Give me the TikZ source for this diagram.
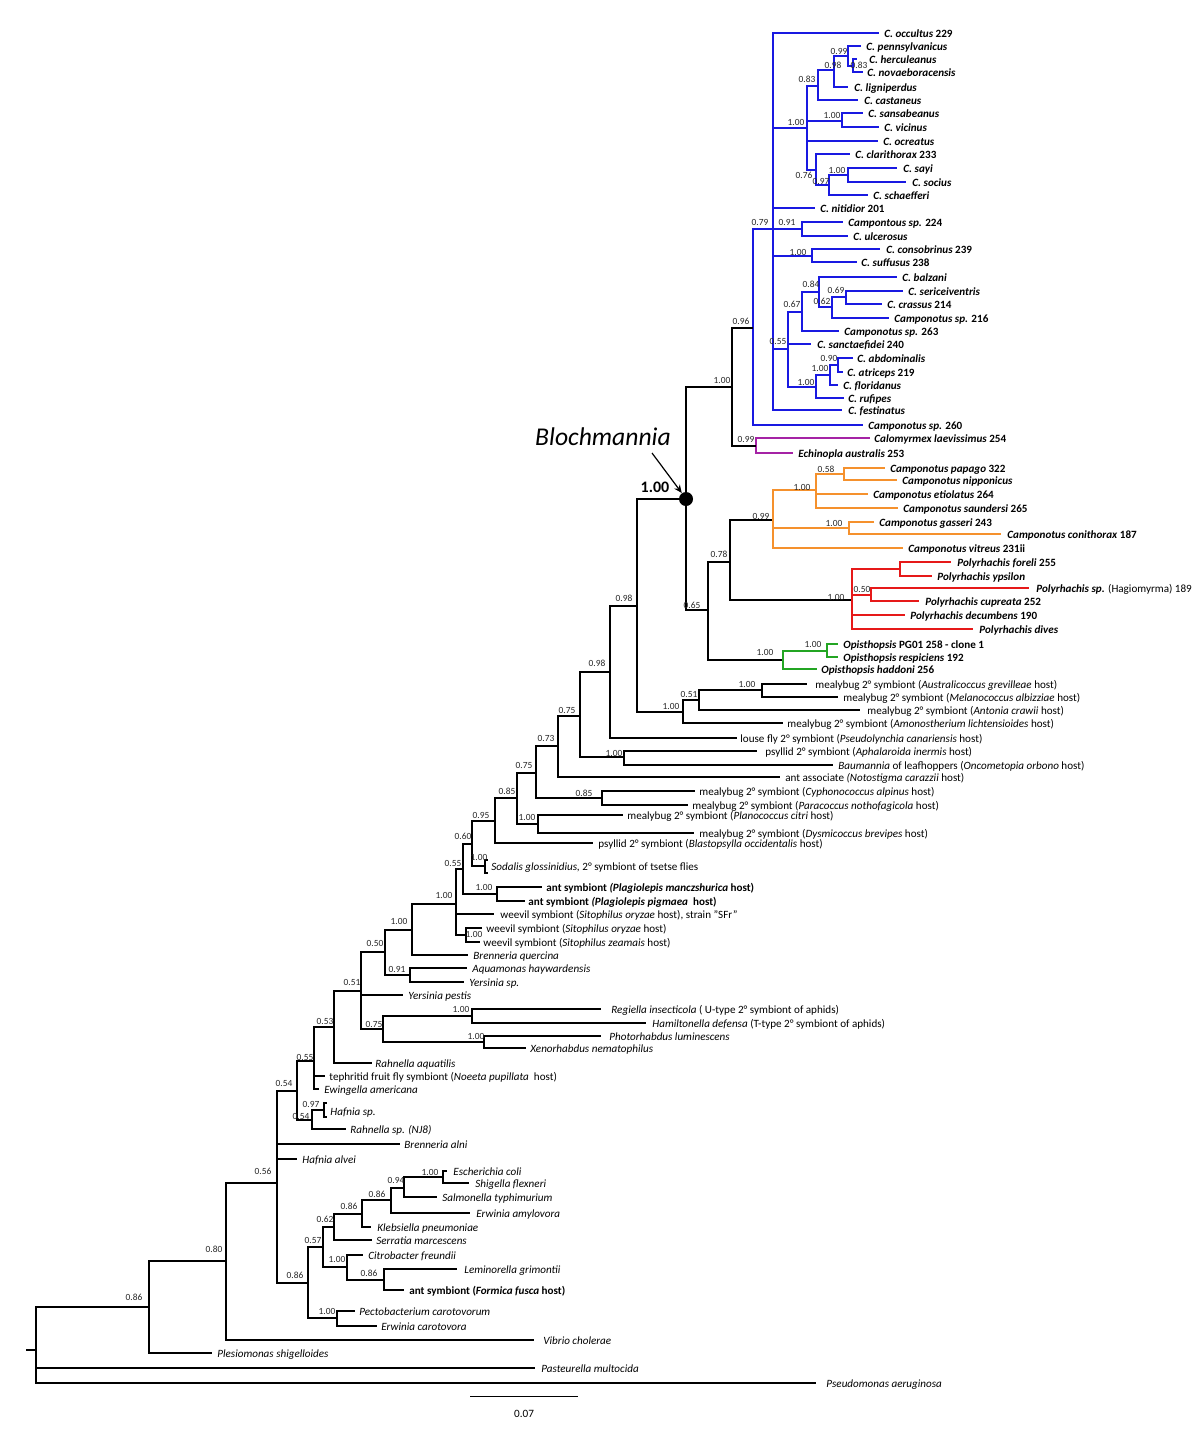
\documentclass[tikz,border=0pt]{standalone}
\usepackage{fontspec}
\setmainfont{Carlito}
\usetikzlibrary{arrows.meta}
\definecolor{cblue}{RGB}{25,25,225}
\definecolor{cpurp}{RGB}{165,35,165}
\definecolor{corng}{RGB}{245,145,45}
\definecolor{cred}{RGB}{230,25,25}
\definecolor{cgrn}{RGB}{35,165,35}
\newcommand\tleaf[5]{\coordinate (#1) at (#2,#3);\node[lab] (#1t) at (#4,#3) {#5};}
\newcommand\tedge[3]{\draw[br,#1] (#2) |- (#3);}
\newcommand\tsup[4]{\node[sup] (#1) at (#2,#3) {#4};}
\newcommand\bi[1]{\textbf{\textit{#1}}}
\tikzset{
  br/.style={line width=0.78pt,line join=miter},
  blk/.style={black},
  blu/.style={cblue},
  pur/.style={cpurp},
  org/.style={corng},
  rd/.style={cred},
  grn/.style={cgrn},
  lab/.style={anchor=mid west,inner sep=0pt,font=\fontsize{5.55}{6.2}\selectfont},
  sup/.style={inner sep=0pt,font=\fontsize{4.7}{5.2}\selectfont,text=black!85},
}
\begin{document}
\begin{tikzpicture}[x=0.5pt,y=-0.5pt]
\useasboundingbox (0,0) rectangle (1200,1440);
% ---------------- Blue clade ----------------
\coordinate (Bl) at (686,499);
\coordinate (A100) at (732,387);
\coordinate (B096) at (753,328);
\coordinate (B079) at (773,229);
\tleaf{occ}{879}{33}{884}{\bi{C. occultus} \textbf{229}}
\coordinate (B100a) at (807,128);
\coordinate (B083) at (818,86);
\coordinate (B098) at (834,70);
\coordinate (B099) at (848,56);
\tleaf{pen}{861}{46}{866}{\bi{C. pennsylvanicus}}
\coordinate (B083b) at (853,66);
\tleaf{her}{857}{59}{869}{\bi{C. herculeanus}}
\tleaf{nov}{863}{72}{867}{\bi{C. novaeboracensis}}
\tleaf{lig}{848}{87}{854}{\bi{C. ligniperdus}}
\tleaf{cas}{858}{100}{864}{\bi{C. castaneus}}
\coordinate (B100b) at (842,121);
\tleaf{san}{863}{113}{868}{\bi{C. sansabeanus}}
\tleaf{vic}{879}{127}{884}{\bi{C. vicinus}}
\tleaf{ocr}{878}{141}{883}{\bi{C. ocreatus}}
\coordinate (B076) at (816,170);
\tleaf{cla}{850}{154}{855}{\bi{C. clarithorax} \textbf{233}}
\coordinate (B097) at (829,185);
\coordinate (B100c) at (848,175);
\tleaf{say}{897}{168}{903}{\bi{C. sayi}}
\tleaf{soc}{906}{182}{912}{\bi{C. socius}}
\tleaf{sch}{868}{195}{873}{\bi{C. schaefferi}}
\tleaf{nit}{815}{208}{820}{\bi{C. nitidior} \textbf{201}}
\coordinate (B091) at (802,229);
\tleaf{sp224}{843}{222}{848}{\bi{Campontous sp.} \textbf{224}}
\tleaf{ulc}{848}{236}{853}{\bi{C. ulcerosus}}
\coordinate (B100d) at (812,256);
\tleaf{con}{880}{249}{886}{\bi{C. consobrinus} \textbf{239}}
\tleaf{suf}{857}{262}{861}{\bi{C. suffusus} \textbf{238}}
\coordinate (B055) at (788,349);
\coordinate (B067) at (802,312);
\coordinate (B084) at (819,292);
\tleaf{bal}{897}{277}{902}{\bi{C. balzani}}
\coordinate (B062) at (832,307);
\coordinate (B069) at (846,297);
\tleaf{ser}{903}{291}{908}{\bi{C. sericeiventris}}
\tleaf{cra}{882}{304}{887}{\bi{C. crassus} \textbf{214}}
\tleaf{sp216}{889}{318}{894}{\bi{Camponotus sp.} \textbf{216}}
\tleaf{sp263}{839}{331}{844}{\bi{Camponotus sp.} \textbf{263}}
\tleaf{sfi}{811}{344}{817}{\bi{C. sanctaefidei} \textbf{240}}
\coordinate (BA) at (816,387);
\coordinate (BB) at (830,375);
\coordinate (BC) at (838,365);
\tleaf{abd}{853}{358}{857}{\bi{C. abdominalis}}
\tleaf{atr}{843}{372}{847}{\bi{C. atriceps} \textbf{219}}
\tleaf{flo}{838}{385}{843}{\bi{C. floridanus}}
\tleaf{ruf}{844}{398}{848}{\bi{C. rufipes}}
\tleaf{fes}{842}{410}{848}{\bi{C. festinatus}}
\tleaf{sp260}{863}{425}{868}{\bi{Camponotus sp.} \textbf{260}}
\coordinate (P099) at (756,446);
\tleaf{cal}{870}{438}{874}{\bi{Calomyrmex laevissimus} \textbf{254}}
\tleaf{ech}{793}{453}{798}{\bi{Echinopla australis} \textbf{253}}
\foreach \p/\c in {B096/B079,B096/sp260,B079/occ,B079/B100a,B079/nit,B079/B091,B079/B100d,B079/B055,B079/fes,
  B100a/B083,B100a/B100b,B100a/ocr,B100a/B076,B083/B098,B083/cas,B098/B099,B098/lig,B099/pen,B099/B083b,
  B083b/her,B083b/nov,B100b/san,B100b/vic,B076/cla,B076/B097,B097/B100c,B097/sch,B100c/say,B100c/soc,
  B091/sp224,B091/ulc,B100d/con,B100d/suf,B055/B067,B055/sfi,B055/BA,B067/B084,B067/sp263,B084/bal,B084/B062,
  B062/B069,B062/sp216,B069/ser,B069/cra,BA/BB,BA/ruf,BB/BC,BB/flo,BC/abd,BC/atr}
  {\tedge{blu}{\p}{\c}}
\tedge{pur}{P099}{cal}
\tedge{pur}{P099}{ech}
\tedge{blk}{A100}{B096}
\tedge{blk}{A100}{P099}
\tedge{blk}{Bl}{A100}
% ---------------- Orange / red / green ----------------
\coordinate (N065) at (708,610);
\coordinate (N078) at (730,562);
\coordinate (O099) at (773,520);
\coordinate (O100a) at (816,490);
\coordinate (O058) at (844,474);
\tleaf{pap}{885}{468}{890}{\bi{Camponotus papago} \textbf{322}}
\tleaf{nip}{897}{480}{902}{\bi{Camponotus nipponicus}}
\tleaf{eti}{868}{494}{873}{\bi{Camponotus etiolatus} \textbf{264}}
\tleaf{sau}{898}{508}{903}{\bi{Camponotus saundersi} \textbf{265}}
\coordinate (O100b) at (849,528);
\tleaf{gas}{874}{522}{879}{\bi{Camponotus gasseri} \textbf{243}}
\tleaf{coni}{1001}{534}{1007}{\bi{Camponotus conithorax} \textbf{187}}
\tleaf{vit}{903}{548}{908}{\bi{Camponotus vitreus} \textbf{231ii}}
\coordinate (R100) at (852,600);
\coordinate (R1) at (900,569);
\coordinate (R050) at (871,595);
\tleaf{fore}{951}{562}{957}{\bi{Polyrhachis foreli} \textbf{255}}
\tleaf{yps}{932}{576}{937}{\bi{Polyrhachis ypsilon}}
\tleaf{hag}{1029}{588}{1036}{\bi{Polyrhachis sp.} (Hagiomyrma) 189}
\tleaf{cup}{919}{601}{925}{\bi{Polyrhachis cupreata} \textbf{252}}
\tleaf{dec}{905}{615}{910}{\bi{Polyrhachis decumbens} \textbf{190}}
\tleaf{div}{973}{629}{979}{\bi{Polyrhachis dives}}
\coordinate (G100) at (783,660);
\coordinate (G100b) at (827,651);
\tleaf{pg}{838}{644}{843}{\bi{Opisthopsis} \textbf{PG01 258 - clone 1}}
\tleaf{resp}{838}{657}{843}{\bi{Opisthopsis respiciens} \textbf{192}}
\tleaf{hadd}{817}{669}{821}{\bi{Opisthopsis haddoni} \textbf{256}}
\tedge{blk}{Bl}{N065}
\tedge{blk}{N065}{N078}
\tedge{blk}{N065}{G100}
\tedge{blk}{N078}{O099}
\tedge{blk}{N078}{R100}
\foreach \p/\c in {O099/O100a,O099/O100b,O099/vit,O100a/O058,O100a/eti,O100a/sau,O058/pap,O058/nip,O100b/gas,O100b/coni}
  {\tedge{org}{\p}{\c}}
\foreach \p/\c in {R100/R1,R100/R050,R100/dec,R100/div,R1/fore,R1/yps,R050/hag,R050/cup}
  {\tedge{rd}{\p}{\c}}
\foreach \p/\c in {G100/G100b,G100/hadd,G100b/pg,G100b/resp}
  {\tedge{grn}{\p}{\c}}
% ---------------- Lower tree ----------------
\coordinate (U098) at (637,606);
\coordinate (M100) at (683,712);
\coordinate (M051) at (699,700);
\coordinate (M100b) at (762,690);
\tleaf{aus}{807}{684}{815}{mealybug 2° symbiont (\textit{Australicoccus grevilleae} host)}
\tleaf{mel}{838}{697}{843}{mealybug 2° symbiont (\textit{Melanococcus albizziae} host)}
\tleaf{antc}{860}{710}{867}{mealybug 2° symbiont (\textit{Antonia crawii} host)}
\tleaf{amo}{783}{723}{787}{mealybug 2° symbiont (\textit{Amonostherium lichtensioides} host)}
\coordinate (L098) at (610,672);
\tleaf{lou}{737}{738}{740}{louse fly 2° symbiont (\textit{Pseudolynchia canariensis} host)}
\coordinate (T075) at (580,716);
\coordinate (Ps100) at (624,757);
\tleaf{aph}{757}{751}{765}{psyllid 2° symbiont (\textit{Aphalaroida inermis} host)}
\tleaf{bau}{833}{765}{838}{\textit{Baumannia} of leafhoppers (\textit{Oncometopia orbono} host)}
\coordinate (T073) at (558,746);
\tleaf{aas}{780}{777}{785}{ant associate \textit{(Notostigma carazzii} host)}
\coordinate (T075b) at (536,773);
\coordinate (C085) at (602,798);
\tleaf{cyp}{695}{791}{699}{mealybug 2° symbiont (\textit{Cyphonococcus alpinus} host)}
\tleaf{par}{688}{805}{692}{mealybug 2° symbiont (\textit{Paracoccus nothofagicola} host)}
\coordinate (T085) at (517,798);
\coordinate (P100) at (538,824);
\tleaf{pla}{623}{815}{627}{mealybug 2° symbiont (\textit{Planococcus citri} host)}
\tleaf{dys}{694}{833}{699}{mealybug 2° symbiont (\textit{Dysmicoccus brevipes} host)}
\coordinate (T095) at (495,821);
\tleaf{bla}{593}{843}{598}{psyllid 2° symbiont (\textit{Blastopsylla occidentalis} host)}
\coordinate (T060) at (472,844);
\coordinate (Sod) at (485,866);
\coordinate (sodA) at (488,860);
\coordinate (sodB) at (488,873);
\node[lab] (sodt) at (491,866) {\textit{Sodalis glossinidius,} 2° symbiont of tsetse flies};
\coordinate (T055) at (463,869);
\coordinate (Pl100) at (497,894);
\tleaf{man}{542}{887}{546}{\textbf{ant symbiont \textit{(Plagiolepis manczshurica} host)}}
\tleaf{pig}{525}{901}{528}{\textbf{ant symbiont \textit{(Plagiolepis pigmaea}\ \ host)}}
\coordinate (W100) at (456,904);
\tleaf{sfr}{494}{914}{500}{weevil symbiont (\textit{Sitophilus oryzae} host), strain "SFr"}
\coordinate (Wv100) at (466,935);
\tleaf{ory}{482}{928}{486}{weevil symbiont (\textit{Sitophilus oryzae} host)}
\tleaf{zea}{480}{942}{483}{weevil symbiont (\textit{Sitophilus zeamais} host)}
\coordinate (Q100) at (412,930);
\tleaf{que}{468}{955}{473}{\textit{Brenneria quercina}}
\coordinate (Q050) at (385,952);
\coordinate (Q091) at (410,975);
\tleaf{aqu}{467}{968}{472}{\textit{Aquamonas haywardensis}}
\tleaf{ysp}{464}{982}{469}{\textit{Yersinia sp.}}
\coordinate (Q051) at (361,991);
\tleaf{ype}{403}{995}{408}{\textit{Yersinia pestis}}
\coordinate (Q075) at (383,1029);
\coordinate (R100r) at (472,1016);
\tleaf{reg}{601}{1009}{611}{\textit{Regiella insecticola} ( U-type 2° symbiont of aphids)}
\tleaf{ham}{646}{1023}{652}{\textit{Hamiltonella defensa} (T-type 2° symbiont of aphids)}
\coordinate (Ph100) at (484,1042);
\tleaf{pho}{601}{1036}{609}{\textit{Photorhabdus luminescens}}
\tleaf{xen}{526}{1048}{530}{\textit{Xenorhabdus nematophilus}}
\coordinate (Q053) at (334,1027);
\tleaf{raq}{372}{1063}{375}{\textit{Rahnella aquatilis}}
\coordinate (Q055) at (314,1061);
\tleaf{tep}{325}{1076}{329}{tephritid fruit fly symbiont (\textit{Noeeta pupillata}\ \ host)}
\tleaf{ewi}{319}{1089}{324}{\textit{Ewingella americana}}
\coordinate (Q054) at (297,1091);
\coordinate (Q054b) at (312,1120);
\coordinate (Q097) at (324,1110);
\coordinate (hafA) at (327,1103);
\coordinate (hafB) at (327,1117);
\node[lab] (haft) at (330,1111) {\textit{Hafnia sp.}};
\tleaf{rsp}{346}{1129}{350}{\textit{Rahnella sp. (NJ8)}}
\coordinate (Q056) at (277,1183);
\tleaf{aln}{400}{1144}{404}{\textit{Brenneria alni}}
\tleaf{alv}{297}{1159}{302}{\textit{Hafnia alvei}}
\coordinate (E086) at (308,1283);
\coordinate (E057) at (323,1247);
\coordinate (E062) at (334,1227);
\coordinate (E086a) at (362,1214);
\coordinate (E086b) at (391,1200);
\coordinate (E094) at (404,1188);
\coordinate (E100) at (443,1177);
\tleaf{eco}{447}{1171}{453}{\textit{Escherichia coli}}
\tleaf{shi}{469}{1183}{475}{\textit{Shigella flexneri}}
\tleaf{sal}{437}{1197}{442}{\textit{Salmonella typhimurium}}
\tleaf{amy}{470}{1213}{476}{\textit{Erwinia amylovora}}
\tleaf{kle}{371}{1227}{377}{\textit{Klebsiella pneumoniae}}
\tleaf{serr}{372}{1240}{376}{\textit{Serratia marcescens}}
\coordinate (C100) at (347,1267);
\tleaf{cit}{363}{1255}{368}{\textit{Citrobacter freundii}}
\coordinate (C086) at (384,1280);
\tleaf{lem}{457}{1269}{464}{\textit{Leminorella grimontii}}
\tleaf{for}{404}{1290}{409}{\textbf{ant symbiont (\textit{Formica fusca} host)}}
\coordinate (Pe100) at (337,1318);
\tleaf{pec}{355}{1311}{359}{\textit{Pectobacterium carotovorum}}
\tleaf{eca}{377}{1326}{381}{\textit{Erwinia carotovora}}
\coordinate (V080) at (226,1261);
\tleaf{vib}{534}{1340}{543}{\textit{Vibrio cholerae}}
\coordinate (V086) at (149,1307);
\tleaf{ple}{212}{1353}{217}{\textit{Plesiomonas shigelloides}}
\coordinate (root) at (36,1350);
\coordinate (rootst) at (26,1350);
\tleaf{pas}{535}{1368}{541}{\textit{Pasteurella multocida}}
\tleaf{pse}{816}{1383}{826}{\textit{Pseudomonas aeruginosa}}
\foreach \p/\c in {U098/Bl,U098/M100,M100/M051,M100/amo,M051/M100b,M051/antc,M100b/aus,M100b/mel,
  L098/U098,L098/lou,T075/L098,T075/Ps100,Ps100/aph,Ps100/bau,T073/T075,T073/aas,T075b/T073,T075b/C085,
  C085/cyp,C085/par,T085/T075b,T085/P100,P100/pla,P100/dys,T095/T085,T095/bla,T060/T095,T060/Sod,
  Sod/sodA,Sod/sodB,T055/T060,T055/Pl100,Pl100/man,Pl100/pig,W100/T055,W100/sfr,W100/Wv100,Wv100/ory,Wv100/zea,
  Q100/W100,Q100/que,Q050/Q100,Q050/Q091,Q091/aqu,Q091/ysp,Q051/Q050,Q051/ype,Q051/Q075,Q075/R100r,Q075/Ph100,
  R100r/reg,R100r/ham,Ph100/pho,Ph100/xen,Q053/Q051,Q053/raq,Q055/Q053,Q055/tep,Q055/ewi,Q054/Q055,Q054/Q054b,
  Q054b/Q097,Q054b/rsp,Q097/hafA,Q097/hafB,Q056/Q054,Q056/aln,Q056/alv,Q056/E086,E086/E057,E086/Pe100,
  E057/E062,E057/C100,E062/E086a,E062/serr,E086a/E086b,E086a/kle,E086b/E094,E086b/amy,E094/E100,E094/sal,
  E100/eco,E100/shi,C100/cit,C100/C086,C086/lem,C086/for,Pe100/pec,Pe100/eca,V080/Q056,V080/vib,
  V086/V080,V086/ple,root/V086,root/pas,root/pse}
  {\tedge{blk}{\p}{\c}}
\draw[br] (rootst) -- (root);
% ---------------- Blochmannia marker ----------------
\node[circle,fill=black,inner sep=0pt,minimum size=7pt] (dot) at (Bl) {};
\node[inner sep=0pt,font=\fontsize{12.8}{14}\selectfont\itshape] (bloch) at (603,437) {Blochmannia};
\coordinate (arst) at (652,453);
\draw[line width=0.6pt,-{Stealth[length=4pt,width=3.5pt]}] (arst) -- (dot.125);
\node[inner sep=0pt,font=\fontsize{8}{9}\selectfont\bfseries] (b100) at (655,487) {1.00};
% ---------------- support values ----------------
\tsup{s1}{741}{321}{0.96}
\tsup{s2}{760}{222}{0.79}
\tsup{s3}{796}{122}{1.00}
\tsup{s4}{807}{79}{0.83}
\tsup{s5}{833}{65}{0.98}
\tsup{s6}{839}{51}{0.99}
\tsup{s7}{859}{65}{0.83}
\tsup{s8}{832}{115}{1.00}
\tsup{s9}{804}{175}{0.76}
\tsup{s10}{821}{181}{0.97}
\tsup{s11}{837}{170}{1.00}
\tsup{s12}{787}{222}{0.91}
\tsup{s13}{798}{252}{1.00}
\tsup{s14}{811}{284}{0.84}
\tsup{s15}{836}{290}{0.69}
\tsup{s16}{822}{301}{0.62}
\tsup{s17}{792}{304}{0.67}
\tsup{s18}{778}{341}{0.55}
\tsup{s19}{829}{358}{0.90}
\tsup{s20}{820}{368}{1.00}
\tsup{s21}{806}{382}{1.00}
\tsup{s22}{746}{439}{0.99}
\tsup{s23}{722}{380}{1.00}
\tsup{s24}{826}{469}{0.58}
\tsup{s25}{802}{487}{1.00}
\tsup{s26}{761}{516}{0.99}
\tsup{s27}{834}{523}{1.00}
\tsup{s28}{719}{554}{0.78}
\tsup{s29}{836}{597}{1.00}
\tsup{s30}{862}{589}{0.50}
\tsup{s31}{692}{605}{0.65}
\tsup{s32}{765}{652}{1.00}
\tsup{s33}{813}{644}{1.00}
\tsup{s34}{624}{598}{0.98}
\tsup{s35}{597}{663}{0.98}
\tsup{s36}{671}{706}{1.00}
\tsup{s37}{689}{694}{0.51}
\tsup{s38}{747}{684}{1.00}
\tsup{s39}{567}{710}{0.75}
\tsup{s40}{614}{753}{1.00}
\tsup{s41}{546}{738}{0.73}
\tsup{s42}{524}{765}{0.75}
\tsup{s43}{584}{793}{0.85}
\tsup{s44}{507}{791}{0.85}
\tsup{s45}{527}{817}{1.00}
\tsup{s46}{481}{815}{0.95}
\tsup{s47}{463}{836}{0.60}
\tsup{s48}{479}{857}{1.00}
\tsup{s49}{453}{863}{0.55}
\tsup{s50}{484}{887}{1.00}
\tsup{s51}{444}{895}{1.00}
\tsup{s52}{474}{934}{1.00}
\tsup{s53}{399}{921}{1.00}
\tsup{s54}{375}{943}{0.50}
\tsup{s55}{397}{969}{0.91}
\tsup{s56}{352}{982}{0.51}
\tsup{s57}{461}{1009}{1.00}
\tsup{s58}{374}{1024}{0.75}
\tsup{s59}{476}{1036}{1.00}
\tsup{s60}{325}{1021}{0.53}
\tsup{s61}{305}{1057}{0.55}
\tsup{s62}{284}{1083}{0.54}
\tsup{s63}{311}{1104}{0.97}
\tsup{s64}{301}{1116}{0.54}
\tsup{s65}{263}{1171}{0.56}
\tsup{s66}{396}{1180}{0.94}
\tsup{s67}{430}{1172}{1.00}
\tsup{s68}{377}{1194}{0.86}
\tsup{s69}{349}{1206}{0.86}
\tsup{s70}{325}{1219}{0.62}
\tsup{s71}{313}{1240}{0.57}
\tsup{s72}{337}{1259}{1.00}
\tsup{s73}{369}{1273}{0.86}
\tsup{s74}{295}{1275}{0.86}
\tsup{s75}{327}{1311}{1.00}
\tsup{s76}{214}{1249}{0.80}
\tsup{s77}{134}{1297}{0.86}
% ---------------- scale bar ----------------
\coordinate (sb1) at (470,1396);
\coordinate (sb2) at (578,1396);
\draw[line width=0.5pt] (sb1) -- (sb2);
\node[inner sep=0pt,font=\fontsize{5.6}{6}\selectfont] (sbl) at (524,1414) {0.07};
\end{tikzpicture}
\end{document}
